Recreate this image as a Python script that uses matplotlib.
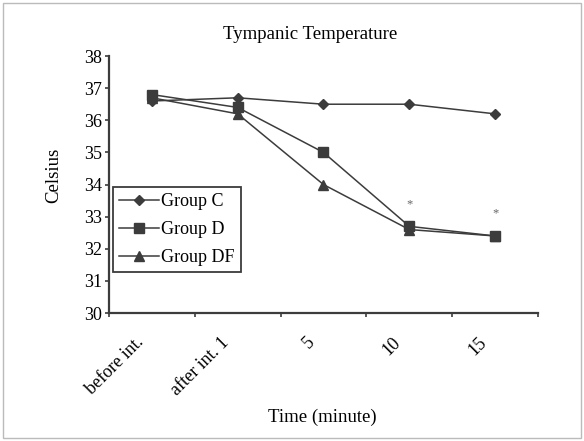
import numpy as np
import matplotlib.pyplot as plt
from matplotlib.patches import Rectangle

plt.rcParams['font.family'] = ['Liberation Serif', 'DejaVu Serif']

# Data
categories = ["before int.", "after int. 1", "5", "10", "15"]
group_c = [36.6, 36.7, 36.5, 36.5, 36.2]
group_d = [36.8, 36.4, 35.0, 32.7, 32.4]
group_df = [36.7, 36.2, 34.0, 32.6, 32.4]
star_idx = [3, 4]
star_y = [33.4, 33.1]

fig = plt.figure(figsize=(5.84, 4.41), dpi=100)
ax = fig.add_axes([0.1866, 0.29, 0.7346, 0.583])

x = np.arange(len(categories))
col = "#3c3c3c"
ax.plot(x, group_c, marker="D", color=col, markersize=5.5, lw=1.1, label="Group C")
ax.plot(x, group_d, marker="s", color=col, markersize=7, lw=1.1, label="Group D")
ax.plot(x, group_df, marker="^", color=col, markersize=7.5, lw=1.1, label="Group DF")

for i, yv in zip(star_idx, star_y):
    ax.text(i, yv, "*", ha="center", va="center", fontsize=9, color="#666666")

ax.set_xlim(-0.5, len(categories) - 0.5)
ax.set_ylim(30, 38)
ax.set_yticks(range(30, 39))
ax.set_xticks(np.arange(-0.5, len(categories)))
ax.set_xticklabels([])
# labels sit a little left of each category centre
ax.set_xticks(x - 0.2, minor=True)
ax.set_xticklabels(categories, minor=True, rotation=45, ha="right",
                   rotation_mode="anchor", fontsize=13)
ax.tick_params(axis="x", which="minor", length=0, pad=15)
ax.tick_params(axis="x", which="major", length=3, direction="out", color=col, width=1.2)
ax.tick_params(axis="y", length=3, direction="out", labelsize=13, color=col, width=1.2, pad=2)

for s in ["top", "right"]:
    ax.spines[s].set_visible(False)
for s in ["left", "bottom"]:
    ax.spines[s].set_color(col)
    ax.spines[s].set_linewidth(1.6)

ax.set_title("Tympanic Temperature", fontsize=13.5, pad=12, x=0.4685)
fig.text(54 / 584, 1 - 175 / 441, "Celsius", rotation=90, ha="center", va="center", fontsize=13.5)
fig.text(322 / 584, 1 - 422 / 441, "Time (minute)", ha="center", va="baseline", fontsize=13.5)

leg = ax.legend(loc="upper left", bbox_to_anchor=(0.0093, 0.49), fontsize=13,
                fancybox=False, edgecolor=col, framealpha=1, borderpad=0.35,
                handlelength=2.2, handletextpad=0.1, labelspacing=0.6, borderaxespad=0)
leg.get_frame().set_linewidth(1.3)

fig.add_artist(Rectangle((0.005, 0.007), 0.99, 0.986, transform=fig.transFigure,
                         fill=False, edgecolor="#bbbbbb", lw=1))

fig.savefig("out.png", dpi=100)
